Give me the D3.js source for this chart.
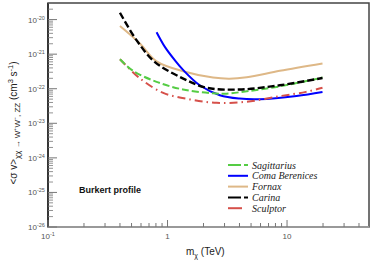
<!DOCTYPE html>
<html>
<head>
<meta charset="utf-8">
<script src="https://cdn.jsdelivr.net/npm/d3@7"></script>
<style>
  body { margin: 0; background: #fff; }
  svg { display: block; }
  .tickLabel { font-family: "Liberation Sans", Arial, sans-serif; font-size: 8px; fill: #555; }
  .axisLabel { font-family: "Liberation Sans", Arial, sans-serif; font-size: 10px; fill: #222; }
  .legendText { font-family: "Liberation Serif", "Times New Roman", serif; font-style: italic; font-size: 10px; fill: #222; }
</style>
</head>
<body>
<div id="chart"></div>
<script>
// data (mass in TeV, <sigma v> in cm^3 s^-1)
const sagittariusMass = [0.4, 0.515, 0.81, 1.35, 2.4, 3.0, 4.6, 8.7, 19.8];
const sagittariusSv = [7.1e-22, 3.3e-22, 1.58e-22, 9.5e-23, 7.4e-23, 7.2e-23, 8.4e-23, 1.17e-22, 2.1e-22];

const comaMass = [0.81, 0.95, 1.15, 1.35, 1.86, 2.74, 4.0, 5.9, 12, 19.8];
const comaSv = [4.3e-21, 1.62e-21, 6.7e-22, 3.5e-22, 1.26e-22, 6.5e-23, 5.2e-23, 5.0e-23, 6.2e-23, 8.1e-23];

const fornaxMass = [0.4, 0.587, 0.81, 1.4, 2.4, 3.3, 4.6, 8.7, 19.8];
const fornaxSv = [6.5e-21, 2.04e-21, 6.2e-22, 3.1e-22, 2.1e-22, 1.95e-22, 2.15e-22, 3.3e-22, 5.4e-22];

const carinaMass = [0.4, 0.55, 0.78, 1.34, 2.12, 4.0, 8.7, 19.8];
const carinaSv = [1.58e-20, 2.55e-21, 6.0e-22, 2.0e-22, 1.07e-22, 9.5e-23, 1.26e-22, 2.04e-22];

const sculptorMass = [0.4, 0.587, 0.92, 1.54, 2.57, 4.6, 8.7, 14.4, 19.8];
const sculptorSv = [7.1e-22, 2.0e-22, 7.6e-23, 4.9e-23, 3.9e-23, 4.2e-23, 6.1e-23, 8.1e-23, 1.07e-22];

const seriesNames = ["Sagittarius", "Coma Berenices", "Fornax", "Carina", "Sculptor"];

const xMajorTicks = [0.1, 1, 10];
const xTickLabels = [["10", "-1"], ["1", ""], ["10", ""]];
const yExponents = [-26, -25, -24, -23, -22, -21, -20];

// layout
const width = 374, height = 267;
const margin = {top: 3, right: 5, bottom: 40, left: 48};
const plotW = width - margin.left - margin.right;
const plotH = height - margin.top - margin.bottom;

const svg = d3.select("#chart").append("svg")
  .attr("width", width).attr("height", height);
const g = svg.append("g").attr("transform", `translate(${margin.left},${margin.top})`);

const xScale = d3.scaleLog().domain([0.1, 48.5]).range([0, plotW]);
const yScale = d3.scaleLog().domain([1e-26, Math.pow(10, -19.52)]).range([plotH, 0]);

// frame
g.append("rect").attr("x", 0).attr("y", 0).attr("width", plotW).attr("height", plotH)
  .attr("fill", "none").attr("stroke", "#444").attr("stroke-width", 1.5);
g.append("line").attr("x1", 0).attr("x2", plotW).attr("y1", plotH).attr("y2", plotH)
  .attr("stroke", "#999").attr("stroke-width", 2);
g.append("line").attr("x1", 0).attr("x2", 0).attr("y1", 0).attr("y2", plotH)
  .attr("stroke", "#222").attr("stroke-width", 1.5);

// x ticks (inside, pointing up)
const xMinor = [];
for (let d = 0.1; d < 50; d *= 10) {
  for (let k = 2; k <= 9; k++) if (d * k <= 48.5) xMinor.push(d * k);
}
g.selectAll(".xminor").data(xMinor).enter().append("line")
  .attr("x1", d => xScale(d)).attr("x2", d => xScale(d))
  .attr("y1", plotH).attr("y2", plotH - 4)
  .attr("stroke", "#777").attr("stroke-width", 1);
g.selectAll(".xmajor").data(xMajorTicks).enter().append("line")
  .attr("x1", d => xScale(d)).attr("x2", d => xScale(d))
  .attr("y1", plotH).attr("y2", plotH - 7)
  .attr("stroke", "#777").attr("stroke-width", 1);
const xl = g.selectAll(".xlab").data(xMajorTicks).enter().append("text")
  .attr("class", "tickLabel")
  .attr("x", d => xScale(d))
  .attr("y", plotH + 12)
  .attr("text-anchor", "middle");
xl.append("tspan").text((d, i) => xTickLabels[i][0]);
xl.append("tspan").attr("dy", -3).attr("font-size", "5.5px").text((d, i) => xTickLabels[i][1]);

// y ticks (inside, pointing right)
const yMinor = [];
yExponents.forEach(e => {
  for (let k = 2; k <= 9; k++) {
    const v = k * Math.pow(10, e);
    if (v <= yScale.domain()[1]) yMinor.push(v);
  }
});
g.selectAll(".yminor").data(yMinor).enter().append("line")
  .attr("x1", 0).attr("x2", 5)
  .attr("y1", d => yScale(d)).attr("y2", d => yScale(d))
  .attr("stroke", "#777").attr("stroke-width", 0.8);
g.selectAll(".ymajor").data(yExponents).enter().append("line")
  .attr("x1", 0).attr("x2", 9)
  .attr("y1", d => yScale(Math.pow(10, d))).attr("y2", d => yScale(Math.pow(10, d)))
  .attr("stroke", "#777").attr("stroke-width", 1);
const yl = g.selectAll(".ylab").data(yExponents).enter().append("text")
  .attr("class", "tickLabel")
  .attr("x", -20).attr("y", d => yScale(Math.pow(10, d)) + 3)
  .attr("text-anchor", "start");
yl.append("tspan").text("10");
yl.append("tspan").attr("dy", -3).attr("font-size", "5.5px").text(d => d);

// curves
const lineGen = d3.line()
  .x(d => xScale(d[0])).y(d => yScale(d[1]))
  .curve(d3.curveCatmullRom.alpha(0.5));

const series = [
  {name: seriesNames[0], m: sagittariusMass, v: sagittariusSv, color: "#55cc44", dash: "7,3", w: 2, legendDash: "13,3,4,20"},
  {name: seriesNames[1], m: comaMass, v: comaSv, color: "#0000ff", dash: null, w: 2, legendDash: null},
  {name: seriesNames[2], m: fornaxMass, v: fornaxSv, color: "#deb887", dash: null, w: 2, legendDash: null},
  {name: seriesNames[3], m: carinaMass, v: carinaSv, color: "#000000", dash: "7,3", w: 2.4, legendDash: "13,3,4,20"},
  {name: seriesNames[4], m: sculptorMass, v: sculptorSv, color: "#d6504a", dash: "8,4,1.5,4", w: 2, legendDash: "14,20"}
];

// draw order so the solid lines lie under the dashed ones where they cross
[2, 1, 4, 0, 3].forEach(i => {
  const s = series[i];
  g.append("path")
    .datum(s.m.map((m, j) => [m, s.v[j]]))
    .attr("d", lineGen)
    .attr("fill", "none")
    .attr("stroke", s.color)
    .attr("stroke-width", s.w)
    .attr("stroke-dasharray", s.dash);
});

// legend
const legend = svg.append("g").attr("transform", "translate(228,165)");
series.forEach((s, i) => {
  const row = legend.append("g").attr("transform", `translate(0,${i * 10.8})`);
  row.append("line").attr("x1", 0).attr("x2", 20).attr("y1", 0).attr("y2", 0)
    .attr("stroke", s.color).attr("stroke-width", 2)
    .attr("stroke-dasharray", s.legendDash);
  row.append("text").attr("class", "legendText")
    .attr("x", 24).attr("y", 3.5).text(s.name);
});

// annotation
svg.append("text")
  .attr("x", 79).attr("y", 192.5)
  .attr("font-family", "Liberation Sans, Arial, sans-serif")
  .attr("font-weight", "bold").attr("font-size", "9px").attr("fill", "#111")
  .text("Burkert profile");

// axis titles
const xt = svg.append("text").attr("class", "axisLabel")
  .attr("x", 186).attr("y", 255);
xt.append("tspan").text("m");
xt.append("tspan").attr("dy", 3).attr("font-size", "7px").text("χ");
xt.append("tspan").attr("dy", -3).text(" (TeV)");

const yt = svg.append("text").attr("class", "axisLabel")
  .attr("font-size", "11px")
  .attr("transform", "translate(17,123) rotate(-90)")
  .attr("text-anchor", "middle");
yt.append("tspan").text("<σ v>");
yt.append("tspan").attr("dy", 3).attr("font-size", "8px").text("χχ → W⁺W⁻, ZZ");
yt.append("tspan").attr("dy", -3).text(" (cm");
yt.append("tspan").attr("dy", -4).attr("font-size", "7.5px").text("3");
yt.append("tspan").attr("dy", 4).text(" s");
yt.append("tspan").attr("dy", -4).attr("font-size", "7.5px").text("-1");
yt.append("tspan").attr("dy", 4).text(")");
</script>
</body>
</html>
